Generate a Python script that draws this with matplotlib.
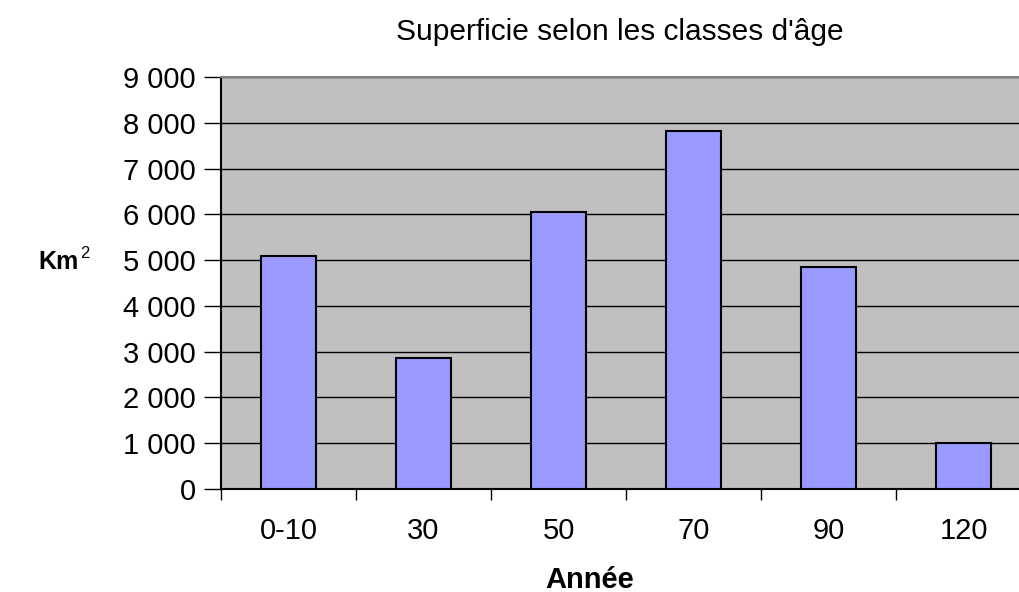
import matplotlib
matplotlib.use("Agg")
import matplotlib.pyplot as plt
from matplotlib.ticker import FuncFormatter, FixedLocator

plt.rcParams["font.family"] = ["Liberation Sans", "DejaVu Sans"]

categories = ["0-10", "30", "50", "70", "90", "120"]
surface = [5100, 2870, 6060, 7810, 4850, 1000]

W, H = 1019, 592
fig = plt.figure(figsize=(W / 100, H / 100), dpi=100)
# plot area: x 221..1031 px (runs off the right edge), y 77..489 px
ax = fig.add_axes([221 / W, (H - 489) / H, 810 / W, 412 / H])
ax.set_facecolor("#c0c0c0")

x = list(range(len(categories)))
ax.bar(x, surface, width=0.41, color="#9999ff", edgecolor="black",
       linewidth=1.5, zorder=3)

ax.set_xlim(-0.5, len(categories) - 0.5)
ax.set_ylim(0, 9000)
ax.set_yticks(range(0, 9001, 1000))
ax.yaxis.set_major_formatter(FuncFormatter(lambda v, p: f"{int(v):,}".replace(",", " ")))
ax.grid(axis="y", color="black", lw=1, zorder=1)

ax.set_xticks(x)
ax.set_xticklabels(categories)
ax.xaxis.set_minor_locator(FixedLocator([i - 0.5 for i in range(len(categories) + 1)]))
ax.tick_params(axis="x", which="major", length=0, pad=20, labelsize=21)
ax.tick_params(axis="x", which="minor", length=8, width=1, color="black")
ax.tick_params(axis="y", length=12, width=1, pad=6, labelsize=21, color="black")

for s in ["left", "bottom"]:
    ax.spines[s].set_color("black")
    ax.spines[s].set_linewidth(1.5)
ax.spines["top"].set_color("#808080")
ax.spines["top"].set_linewidth(1.5)
ax.spines["right"].set_visible(False)

fig.text(620 / W, 1 - 32 / H, "Superficie selon les classes d'âge",
         ha="center", va="center", fontsize=21.5)
fig.text(590 / W, 1 - 580 / H, "Année", ha="center", va="center",
         fontsize=21, fontweight="bold")
fig.text(38 / W, 1 - 262 / H, "Km", ha="left", va="center",
         fontsize=18, fontweight="bold")
fig.text(80 / W, 1 - 254 / H, "2", ha="left", va="center", fontsize=12)

fig.savefig("out.png", dpi=100)
